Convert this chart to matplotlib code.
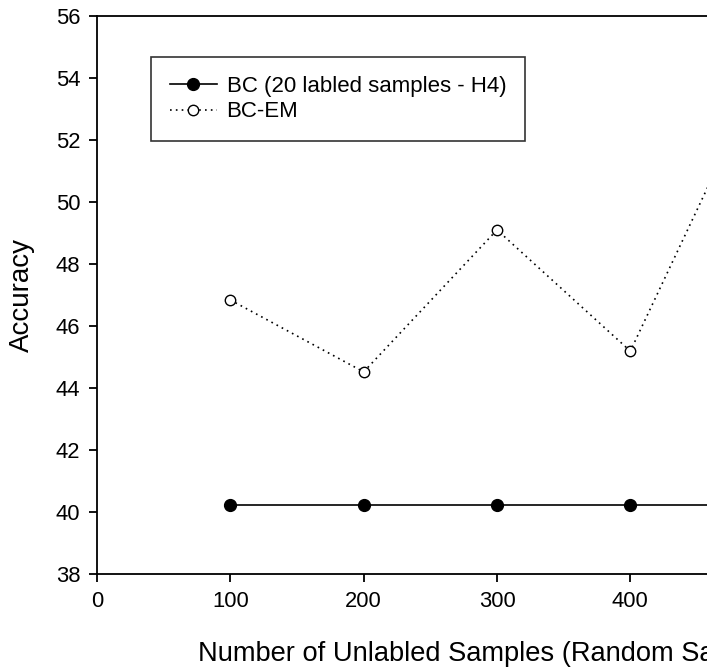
import numpy as np
import matplotlib
matplotlib.use("Agg")
import matplotlib.pyplot as plt

plt.rcParams['font.family'] = ['Liberation Sans', 'DejaVu Sans']

# values
n_unlabeled = [100, 200, 300, 400, 500]
acc_bc = [40.23, 40.23, 40.23, 40.23, 40.23]
acc_bc_em = [46.84, 44.52, 49.10, 45.19, 54.3]

x_ticks = [0, 100, 200, 300, 400, 500, 600]
y_ticks = [38, 40, 42, 44, 46, 48, 50, 52, 54, 56]

W, H = 707, 668
fig = plt.figure(figsize=(W / 100, H / 100), dpi=100)
# axes run past the right edge of the figure, like the cropped original
ax = fig.add_axes([97 / W, (H - 574) / H, 800 / W, (574 - 16) / H])

ax.plot(n_unlabeled, acc_bc, color='black', linewidth=1.2, marker='o',
        markersize=8.5, markerfacecolor='black', label="BC (20 labled samples - H4)")
ax.plot(n_unlabeled, acc_bc_em, color='black', linewidth=1.2, linestyle=(0, (1, 2.5)),
        marker='o', markersize=7.5, markerfacecolor='white', markeredgewidth=1.0,
        label="BC-EM")

ax.set_xlim(0, 600)
ax.set_ylim(38, 56)
ax.set_xticks(x_ticks)
ax.set_yticks(y_ticks)
ax.spines['right'].set_visible(False)
for s in ax.spines.values():
    s.set_linewidth(1.3)
ax.tick_params(direction='out', length=6, width=1.3, labelsize=15.8, pad=6)

ax.set_xlabel("Number of Unlabled Samples (Random Samples)", fontsize=19.6, labelpad=21)
ax.set_ylabel("Accuracy", fontsize=20, labelpad=15)

leg = fig.legend(loc='upper left', bbox_to_anchor=(151 / W, 1 - 57 / H), borderaxespad=0,
                 fontsize=16, frameon=True, fancybox=False, handlelength=2.1,
                 borderpad=0.85, labelspacing=0.2, handletextpad=0.45)
leg.get_frame().set_edgecolor('black')
leg.get_frame().set_linewidth(1.2)

fig.savefig("out.png", dpi=100)
